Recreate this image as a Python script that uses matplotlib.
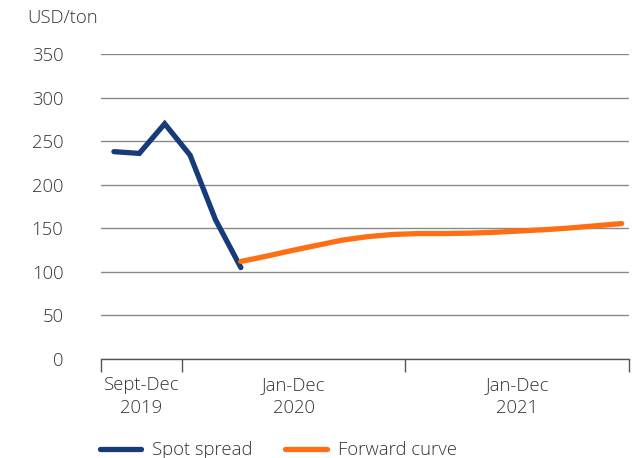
import matplotlib
matplotlib.use("Agg")
import matplotlib.pyplot as plt
from matplotlib.lines import Line2D
import numpy as np

plt.rcParams['font.family'] = ['Open Sans', 'DejaVu Sans']

spot_values = [238, 236, 270, 234, 160, 105]
forward_values = [112, 118, 124.5, 130.5, 136.5, 140.5, 143, 144, 144, 144.5,
                  145.5, 147, 148.5, 150.5, 153, 155.5]
period_labels = ["Sept-Dec\n2019", "Jan-Dec\n2020", "Jan-Dec\n2021"]
y_ticks = [0, 50, 100, 150, 200, 250, 300, 350]

spot_x = np.arange(len(spot_values))
forward_x = np.arange(len(forward_values)) + len(spot_values) - 1

navy = "#173a78"
orange = "#ff6e14"
text_c = "#333333"
fs = 13.3

fig = plt.figure(figsize=(6.39, 4.58), dpi=100)
ax = fig.add_axes([0.158, 0.216, 0.826, 0.666])

ax.plot(spot_x, spot_values, color=navy, lw=3.8, solid_capstyle='round', solid_joinstyle='miter', zorder=3)
ax.plot(forward_x, forward_values, color=orange, lw=3.8, solid_capstyle='round', zorder=3)

ax.set_ylim(0, 350)
ax.set_xlim(-0.51, 20.28)
ax.set_yticks(y_ticks)
ax.set_yticklabels([str(v) for v in y_ticks])
ax.yaxis.grid(True, color="#8a8a8a", lw=1.0)
ax.set_axisbelow(True)
for s in ['left', 'right', 'top']:
    ax.spines[s].set_visible(False)
ax.spines['bottom'].set_color("#555555")
ax.spines['bottom'].set_linewidth(1.0)
ax.spines['bottom'].set_zorder(2)
ax.tick_params(axis='y', length=0, pad=27, labelsize=fs, labelcolor=text_c)
for lab in ax.get_yticklabels():
    lab.set_horizontalalignment('right')
    lab.set_fontweight('light')

bounds = [-0.51, 2.68, 11.48, 20.28]
ax.set_xticks(bounds)
ax.set_xticklabels([])
ax.tick_params(axis='x', which='major', length=9, width=1.0, color="#555555", direction='out')
mids = [(bounds[i] + bounds[i + 1]) / 2 for i in range(3)]
ax.set_xticks(mids, minor=True)
ax.set_xticklabels(period_labels, minor=True)
ax.tick_params(axis='x', which='minor', length=0, pad=12, labelsize=fs, labelcolor=text_c)
for lab in ax.get_xticklabels(minor=True):
    lab.set_linespacing(1.35)
    lab.set_fontweight('light')

fig.text(27 / 639, 1 - 18 / 458, "USD/ton", fontsize=fs, color=text_c, va='center', ha='left',
         fontweight='light')

handles = [Line2D([0], [0], color=navy, lw=3.8, solid_capstyle='round'),
           Line2D([0], [0], color=orange, lw=3.8, solid_capstyle='round')]
leg = fig.legend(handles, ["Spot spread", "Forward curve"], loc='center left',
                 bbox_to_anchor=(83 / 639, 1 - 450 / 458), ncol=2, frameon=False,
                 fontsize=fs, labelcolor=text_c, handlelength=2.25, columnspacing=1.75,
                 handletextpad=0.6)
for t in leg.get_texts():
    t.set_fontweight('light')

fig.savefig("out.png", dpi=100)
